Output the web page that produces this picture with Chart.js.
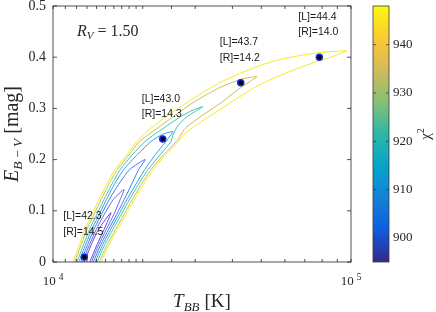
<!DOCTYPE html>
<html><head><meta charset="utf-8">
<script src="https://cdn.jsdelivr.net/npm/chart.js@4.4.0/dist/chart.umd.min.js"></script>
<style>html,body{margin:0;padding:0;background:#fff}</style>
</head><body>
<canvas id="c" width="436" height="312"></canvas>
<script>
const SERIF = '"Liberation Serif", "Times New Roman", serif';
const SANS = '"Liberation Sans", Arial, sans-serif';

// best-fit points
const bestT = [12740, 23350, 42660, 78300];
const bestE = [0.010, 0.240, 0.350, 0.400];
const labelL = ['42.3', '43.0', '43.7', '44.4'];
const labelR = ['14.5', '14.3', '14.2', '14.0'];

// chi^2 contour lines, [T_BB, E_B-V]
const contour946 = [[11671,0],[12274,0.0342],[12805,0.0635],[13517,0.0928],[14268,0.1221],[15119,0.1514],[16147,0.1807],[17718,0.2100],[19141,0.2354],[20835,0.2568],[23037,0.2764],[25675,0.2959],[28829,0.3154],[32372,0.3340],[36341,0.3506],[42418,0.3682],[49503,0.3838],[57775,0.3955],[67432,0.4033],[78701,0.4092],[91857,0.4121],[96958,0.4131],[91857,0.4072],[87002,0.4014],[78701,0.3936],[67432,0.3799],[57775,0.3643],[49503,0.3467],[42418,0.3232],[36341,0.2979],[31145,0.2725],[27737,0.2510],[25874,0.2295],[23401,0.2041],[21743,0.1807],[20124,0.1514],[18771,0.1221],[17581,0.0928],[16462,0.0635],[15415,0.0342],[14490,0]];
const contour935 = [[11826,0],[12439,0.0342],[13000,0.0635],[13727,0.0928],[14507,0.1221],[15378,0.1514],[16442,0.1807],[18033,0.2100],[19511,0.2354],[21165,0.2510],[23401,0.2695],[26075,0.2891],[28829,0.3076],[32372,0.3252],[36341,0.3408],[42418,0.3564],[45821,0.3604],[48368,0.3623],[45821,0.3525],[42418,0.3398],[36341,0.3096],[31145,0.2832],[27737,0.2607],[25967,0.2354],[23521,0.2100],[21348,0.1807],[19784,0.1514],[18462,0.1221],[17311,0.0928],[16215,0.0635],[15207,0.0342],[14301,0]];
const contour921 = [[12028,0],[12672,0.0342],[13263,0.0635],[14027,0.0928],[14824,0.1221],[15739,0.1514],[16828,0.1807],[18484,0.2100],[20362,0.2354],[22865,0.2568],[26686,0.2832],[29279,0.2959],[31875,0.3037],[29965,0.2939],[27946,0.2822],[26277,0.2666],[25281,0.2490],[24887,0.2354],[22948,0.2100],[20859,0.1807],[19331,0.1514],[18068,0.1221],[16939,0.0928],[15892,0.0635],[14928,0.0342],[14060,0]];
const contour912 = [[12215,0],[12870,0.0342],[13501,0.0635],[14279,0.0928],[15113,0.1221],[16058,0.1514],[17277,0.1807],[19212,0.2100],[21329,0.2354],[23221,0.2490],[25281,0.2549],[24702,0.2461],[23944,0.2354],[22078,0.2100],[20319,0.1807],[18946,0.1514],[17722,0.1221],[16640,0.0928],[15612,0.0635],[14699,0.0342],[13845,0]];
const contour906 = [[12387,0],[13070,0.0342],[13722,0.0635],[14535,0.0928],[15444,0.1221],[16589,0.1514],[18096,0.1807],[20362,0.2002],[19398,0.1807],[18345,0.1514],[17344,0.1221],[16347,0.0928],[15361,0.0635],[14474,0.0342],[13653,0]];
const contour901 = [[12560,0],[13263,0.0342],[13968,0.0635],[14853,0.0928],[15929,0.1221],[17311,0.1416],[16815,0.1221],[15997,0.0928],[15090,0.0635],[14263,0.0342],[13464,0]];
const contour898 = [[12726,0],[13449,0.0342],[14208,0.0635],[15655,0.0967],[14836,0.0635],[14066,0.0342],[13289,0]];

const contours = [contour946, contour935, contour921, contour912, contour906, contour901, contour898];
const contourColors = ['#f4ea1c', '#cbbb52', '#3cc4b4', '#2f9fe2', '#3f78ee', '#6064ea', '#5248d2'];

const cbMin = 895, cbMax = 948;
const cbTickValues = [900, 910, 920, 930, 940];
const parula = [[0,'#352a87'],[0.125,'#0f5cdd'],[0.25,'#1481d6'],[0.375,'#06a4ca'],[0.5,'#2eb7a4'],[0.625,'#87bf77'],[0.75,'#d1bb59'],[0.875,'#fec832'],[1,'#f9fb0e']];

const datasets = [{
  data: bestT.map((t, i) => ({x: t, y: bestE[i]})),
  showLine: false, pointRadius: 3, pointBorderWidth: 1.5,
  pointBackgroundColor: '#000', pointBorderColor: '#1a2ae8'
}];
contours.forEach((c, i) => datasets.push({
  data: c.map(p => ({x: p[0], y: p[1]})),
  showLine: true, pointRadius: 0, borderWidth: 1, borderColor: contourColors[i],
  tension: 0.2, fill: false
}));

function drawRich(ctx, segs, x, y, align) {
  const widths = segs.map(s => { ctx.font = (s.italic ? 'italic ' : '') + s.size + 'px ' + SERIF; return ctx.measureText(s.t).width + (s.gap || 0); });
  const total = widths.reduce((a, b) => a + b, 0);
  let cx = align === 'center' ? x - total / 2 : x;
  segs.forEach((s, i) => {
    ctx.font = (s.italic ? 'italic ' : '') + s.size + 'px ' + SERIF;
    ctx.fillText(s.t, cx, y + (s.dy || 0));
    cx += widths[i];
  });
}

const decor = {
  id: 'decor',
  afterDatasetsDraw(chart) {
    const {ctx, chartArea: a, scales: {x, y}} = chart;
    ctx.save();
    ctx.strokeStyle = '#262626'; ctx.lineWidth = 0.8;
    ctx.strokeRect(a.left, a.top, a.right - a.left, a.bottom - a.top);
    ctx.beginPath();
    y.ticks.forEach(t => {
      const py = y.getPixelForValue(t.value);
      ctx.moveTo(a.left, py); ctx.lineTo(a.left + 4, py);
      ctx.moveTo(a.right, py); ctx.lineTo(a.right - 4, py);
    });
    x.ticks.forEach(t => {
      const px = x.getPixelForValue(t.value);
      ctx.moveTo(px, a.bottom); ctx.lineTo(px, a.bottom - 3);
      ctx.moveTo(px, a.top); ctx.lineTo(px, a.top + 3);
    });
    ctx.stroke();
    ctx.font = '10.5px ' + SANS; ctx.fillStyle = '#1a1a1a';
    ctx.textBaseline = 'middle'; ctx.textAlign = 'left';
    bestT.forEach((t, i) => {
      const px = x.getPixelForValue(t), py = y.getPixelForValue(bestE[i]);
      ctx.fillText('[L]=' + labelL[i], px - 21, py - 40.5);
      ctx.fillText('[R]=' + labelR[i], px - 21, py - 25);
    });
    ctx.restore();
  },
  afterDraw(chart) {
    const {ctx, chartArea: a, scales: {x, cb}} = chart;
    ctx.save();
    ctx.fillStyle = '#262626'; ctx.textAlign = 'left'; ctx.textBaseline = 'alphabetic';
    // x tick labels 10^n
    x.ticks.forEach(t => {
      const e = Math.log10(t.value);
      if (Math.abs(e - Math.round(e)) > 1e-9) return;
      const px = x.getPixelForValue(t.value);
      ctx.font = '13px ' + SERIF; const w1 = ctx.measureText('10').width;
      ctx.font = '9.5px ' + SERIF; const w2 = ctx.measureText(String(Math.round(e))).width;
      const tot = w1 + 3 + w2, sx = px - tot / 2;
      ctx.font = '13px ' + SERIF; ctx.fillText('10', sx, 285);
      ctx.font = '9.5px ' + SERIF; ctx.fillText(String(Math.round(e)), sx + w1 + 3, 279.5);
    });
    // x title
    drawRich(ctx, [{t: 'T', size: 19, italic: true}, {t: 'BB', size: 13, italic: true, dy: 4, gap: 5}, {t: '[K]', size: 19}], (a.left + a.right) / 2, 307, 'center');
    // y title
    ctx.save();
    ctx.translate(18, (a.top + a.bottom) / 2);
    ctx.rotate(-Math.PI / 2);
    drawRich(ctx, [{t: 'E', size: 20, italic: true}, {t: 'B\u2009\u2212\u2009V', size: 13.5, italic: true, dy: 4, gap: 5}, {t: '[mag]', size: 20}], 0, 0, 'center');
    ctx.restore();
    // R_V annotation
    drawRich(ctx, [{t: 'R', size: 16, italic: true}, {t: 'V', size: 11, italic: true, dy: 3, gap: 4}, {t: '= 1.50', size: 16}], a.left + 24, 36, 'left');
    // colorbar
    const top = cb.getPixelForValue(cbMax), bot = cb.getPixelForValue(cbMin);
    const bx = cb.left + 22, bw = 16;
    const g = ctx.createLinearGradient(0, bot, 0, top);
    parula.forEach(s => g.addColorStop(s[0], s[1]));
    ctx.fillStyle = g; ctx.fillRect(bx, top, bw, bot - top);
    ctx.strokeStyle = '#3a3a3a'; ctx.lineWidth = 0.8;
    ctx.strokeRect(bx, top, bw, bot - top);
    ctx.beginPath();
    cbTickValues.forEach(v => { const py = cb.getPixelForValue(v); ctx.moveTo(bx + bw, py); ctx.lineTo(bx + bw - 3, py); ctx.moveTo(bx, py); ctx.lineTo(bx + 3, py); });
    ctx.stroke();
    // chi^2 label
    ctx.save();
    ctx.fillStyle = '#262626';
    ctx.translate(430, (a.top + a.bottom) / 2);
    ctx.rotate(-Math.PI / 2);
    drawRich(ctx, [{t: '\u03c7', size: 15, italic: false}, {t: '2', size: 10, dy: -6}], 0, 0, 'center');
    ctx.restore();
    ctx.restore();
  }
};

function noPad(s) { s.paddingTop = 0; s.paddingBottom = 0; }

new Chart(document.getElementById('c'), {
  type: 'scatter',
  data: {datasets},
  options: {
    responsive: false, animation: false, devicePixelRatio: 1,
    layout: {padding: {top: 6, left: 0, right: 0, bottom: 0}},
    plugins: {legend: {display: false}, tooltip: {enabled: false}},
    scales: {
      x: {type: 'logarithmic', min: 1e4, max: 1e5, position: 'bottom',
          grid: {display: false, drawTicks: false}, border: {display: false},
          ticks: {display: false}, afterFit(s) { s.height = 50; s.paddingLeft = 0; s.paddingRight = 0; }},
      y: {type: 'linear', min: 0, max: 0.5, position: 'left',
          grid: {display: false, drawTicks: false}, border: {display: false},
          ticks: {stepSize: 0.1, padding: 7, color: '#262626', font: {family: SERIF, size: 14},
                  callback: v => (Math.abs(v) < 1e-9 ? '0' : (+v).toFixed(1))},
          afterFit(s) { s.width = 53; noPad(s); }},
      cb: {type: 'linear', min: cbMin, max: cbMax, position: 'right',
          grid: {display: false, drawTicks: false}, border: {display: false},
          afterBuildTicks(s) { s.ticks = cbTickValues.map(v => ({value: v})); },
          ticks: {padding: 42, color: '#262626', font: {family: SERIF, size: 13}, callback: v => String(v)},
          afterFit(s) { s.width = 85; noPad(s); }}
    }
  },
  plugins: [decor]
});
</script>
</body></html>
